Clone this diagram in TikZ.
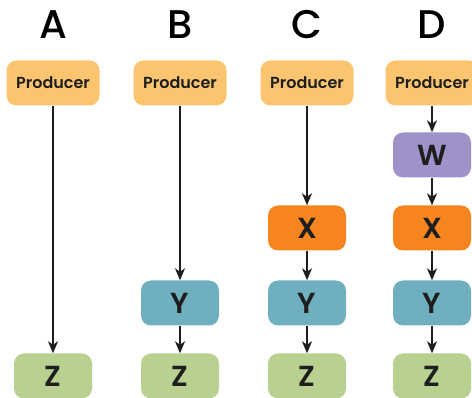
\documentclass[tikz,border=0pt]{standalone}
\usepackage{fontspec}
\setmainfont{Poppins}[BoldFont={* SemiBold}]
\newfontfamily\headfont{Poppins Medium}
\usetikzlibrary{arrows.meta}
\definecolor{prodfill}{HTML}{FBC56F}
\definecolor{wfill}{HTML}{9E92C9}
\definecolor{xfill}{HTML}{F6841F}
\definecolor{yfill}{HTML}{70AFBF}
\definecolor{zfill}{HTML}{B8D190}
\definecolor{ink}{HTML}{1E1E1E}
\tikzset{
  x=1pt, y=-1pt,
  box/.style={rounded corners=10pt, minimum height=45pt, inner sep=0pt, text=ink},
  prodbox/.style={box, fill=prodfill, minimum width=93pt, font=\fontsize{16}{16}\selectfont\bfseries},
  letterbox/.style={box, minimum width=78pt, font=\fontsize{29}{29}\selectfont\bfseries},
  head/.style={font=\fontsize{40}{40}\headfont, text=black},
  flow/.style={draw=ink, line width=1.6pt, -{Stealth[length=12pt,width=10pt,inset=3.5pt]}}
}
\begin{document}
\begin{tikzpicture}
\useasboundingbox (0,0) rectangle (472,398);
% column headings
\node[head] (hA) at (53,25) {A};
\node[head] (hB) at (180,25) {B};
\node[head] (hC) at (307,25) {C};
\node[head] (hD) at (432,25) {D};
% column A
\node[prodbox] (pA) at (53,83) {Producer};
\node[letterbox, fill=zfill] (zA) at (53,376) {Z};
\draw[flow] (pA) -- (zA);
% column B
\node[prodbox] (pB) at (180,83) {Producer};
\node[letterbox, fill=yfill] (yB) at (180,303) {Y};
\node[letterbox, fill=zfill] (zB) at (180,376) {Z};
\draw[flow] (pB) -- (yB);
\draw[flow] (yB) -- (zB);
% column C
\node[prodbox] (pC) at (307,83) {Producer};
\node[letterbox, fill=xfill] (xC) at (307,228) {X};
\node[letterbox, fill=yfill] (yC) at (307,303) {Y};
\node[letterbox, fill=zfill] (zC) at (307,376) {Z};
\draw[flow] (pC) -- (xC);
\draw[flow] (xC) -- (yC);
\draw[flow] (yC) -- (zC);
% column D
\node[prodbox] (pD) at (432,83) {Producer};
\node[letterbox, fill=wfill] (wD) at (432,155) {W};
\node[letterbox, fill=xfill] (xD) at (432,228) {X};
\node[letterbox, fill=yfill] (yD) at (432,303) {Y};
\node[letterbox, fill=zfill] (zD) at (432,376) {Z};
\draw[flow] (pD) -- (wD);
\draw[flow] (wD) -- (xD);
\draw[flow] (xD) -- (yD);
\draw[flow] (yD) -- (zD);
\end{tikzpicture}
\end{document}
